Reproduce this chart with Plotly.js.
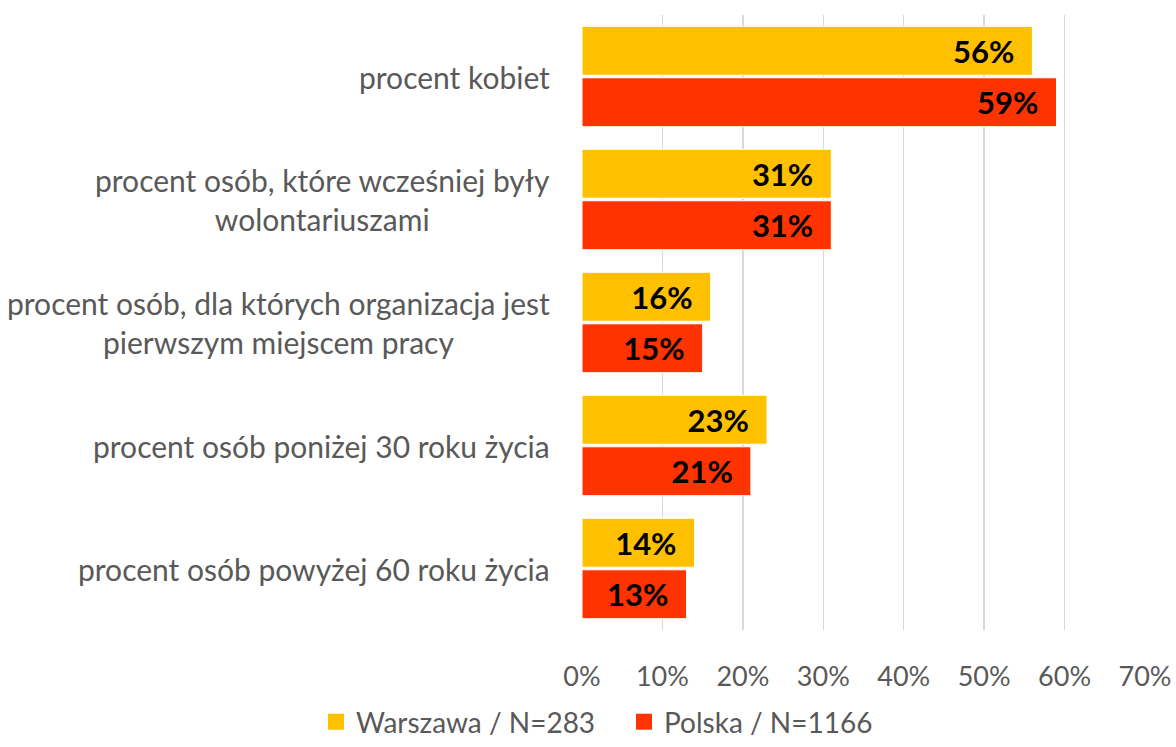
<!DOCTYPE html>
<html>
<head>
<meta charset="utf-8">
<script src="https://cdn.plot.ly/plotly-3.0.1.min.js"></script>
<style>html,body{margin:0;padding:0;background:#fff;}#chart{width:1176px;height:747px;}</style>
</head>
<body>
<div id="chart"></div>
<script>
const categories = [
  "procent kobiet",
  "procent osób, które wcześniej były<br>wolontariuszami",
  "procent osób, dla których organizacja jest<br>pierwszym miejscem pracy",
  "procent osób poniżej 30 roku życia",
  "procent osób powyżej 60 roku życia"
];
const warszawa = [0.56, 0.31, 0.16, 0.23, 0.14];
const polska = [0.59, 0.31, 0.15, 0.21, 0.13];
const seriesNames = ["Warszawa / N=283", "Polska / N=1166"];
const seriesColors = ["#FFC000", "#FF3300"];
const tickVals = [0, 0.1, 0.2, 0.3, 0.4, 0.5, 0.6, 0.7];

const FONT = "Lato, 'Open Sans', sans-serif";
const GRAY = "#595959";

function barTrace(vals, name, color) {
  return {
    type: "bar",
    orientation: "h",
    x: vals,
    y: categories,
    name: name,
    showlegend: false,
    marker: {color: color, line: {color: "#ffffff", width: 1}},
    texttemplate: "%{x:.0%}\u00a0\u00a0",
    textposition: "inside",
    insidetextanchor: "end",
    textangle: 0,
    constraintext: "none",
    textfont: {family: FONT, size: 31, color: "#000000", weight: "bold"},
    hoverinfo: "none"
  };
}

function legendTrace(name, color, legendId) {
  return {
    type: "scatter", mode: "markers", x: [null], y: [null], name: name,
    legend: legendId,
    marker: {symbol: "square", size: 17, color: color}, hoverinfo: "none"
  };
}

const data = [
  barTrace(warszawa, seriesNames[0], seriesColors[0]),
  barTrace(polska, seriesNames[1], seriesColors[1]),
  legendTrace(seriesNames[0], seriesColors[0], "legend"),
  legendTrace(seriesNames[1], seriesColors[1], "legend2")
];

const annotations = categories.map(c => ({
  xref: "paper", yref: "y", x: 0, y: c, xanchor: "right", yanchor: "middle",
  xshift: -30, text: c, showarrow: false, align: "center",
  font: {family: FONT, size: 30, color: GRAY}
}));

function legendBox(x) {
  return {
    orientation: "h", xref: "container", yref: "container",
    x: x, xanchor: "left", y: -0.018, yanchor: "bottom",
    font: {family: FONT, size: 28, color: GRAY}, itemwidth: 30,
    bgcolor: "rgba(0,0,0,0)"
  };
}

const layout = {
  width: 1176, height: 747,
  margin: {l: 582, r: 31, t: 15, b: 117},
  paper_bgcolor: "#ffffff", plot_bgcolor: "#ffffff",
  barmode: "group", bargap: 0.163, bargroupgap: 0.05,
  font: {family: FONT, color: GRAY},
  xaxis: {
    range: [0, 0.7], tickvals: tickVals, tickformat: ".0%",
    showgrid: true, gridcolor: "#d9d9d9", gridwidth: 1.5,
    zeroline: false, showline: false, ticks: "",
    tickfont: {family: FONT, size: 27, color: GRAY}, ticklabelstandoff: 28
  },
  yaxis: {
    autorange: "reversed", showticklabels: false, showgrid: false,
    zeroline: false, showline: false, ticks: ""
  },
  showlegend: true,
  legend: legendBox(0.2687),
  legend2: legendBox(0.5306),
  annotations: annotations
};

Plotly.newPlot("chart", data, layout, {displayModeBar: false, staticPlot: true});
</script>
</body>
</html>
